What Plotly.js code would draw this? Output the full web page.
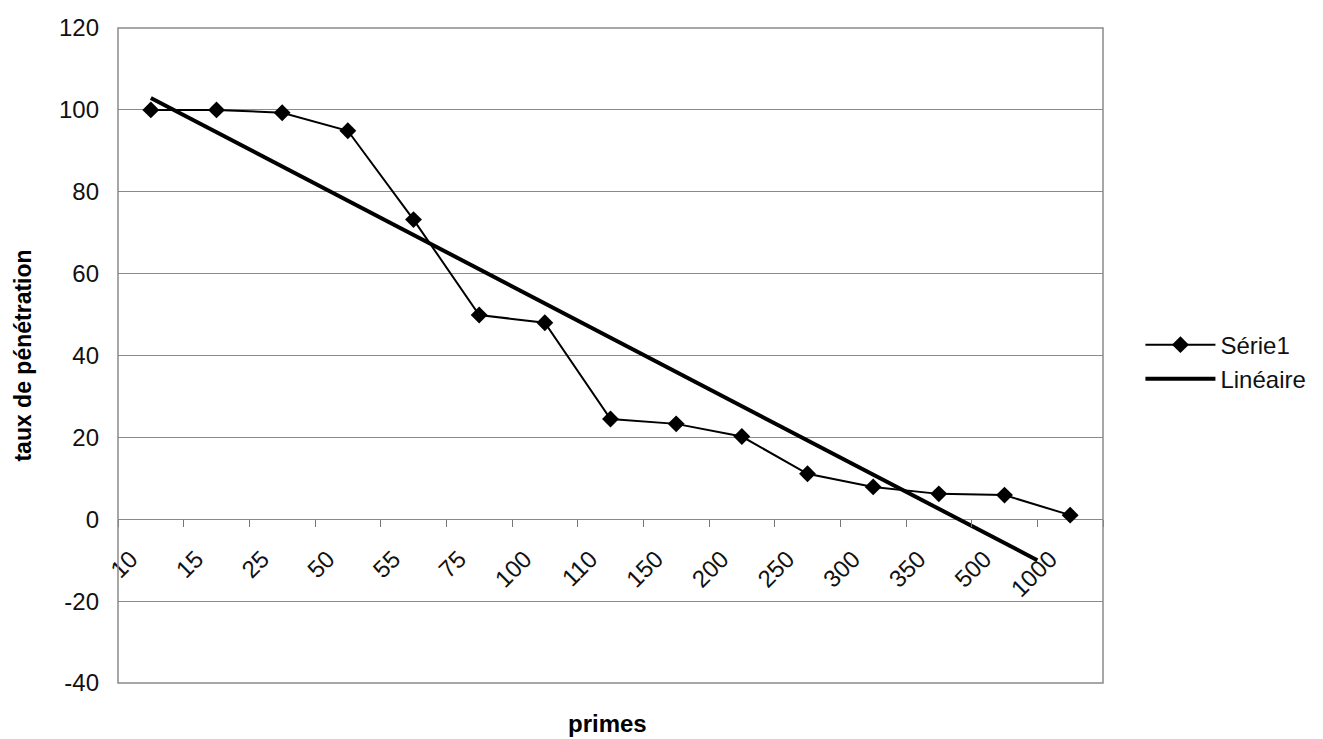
<!DOCTYPE html>
<html>
<head>
<meta charset="utf-8">
<script src="https://cdn.plot.ly/plotly-3.0.1.min.js"></script>
<style>html,body{margin:0;padding:0;background:#fff;}#chart{width:1323px;height:739px;}</style>
</head>
<body>
<div id="chart"></div>
<script>
// Category labels (primes) and the penetration rate series
var primes = ["10","15","25","50","55","75","100","110","150","200","250","300","350","500","1000"];
var tauxPenetration = [100, 100, 99.3, 94.9, 73.2, 49.9, 48.0, 24.5, 23.3, 20.2, 11.1, 7.9, 6.2, 5.9, 1.0];
var yTicks = [-40, -20, 0, 20, 40, 60, 80, 100, 120];
var yTickLabels = ["-40", "-20", "0", "20", "40", "60", "80", "100", "120"];
var trendEndIndex = 13.5; // where the drawn trendline stops (category index)

// positions along the category axis
var idx = primes.map(function(_, i){ return i; });

// Linear trendline (least squares on category order 1..n, as Excel does)
var n = tauxPenetration.length;
var xs = idx.map(function(i){ return i + 1; });
var mx = xs.reduce(function(a,b){return a+b;},0)/n;
var my = tauxPenetration.reduce(function(a,b){return a+b;},0)/n;
var sxy = 0, sxx = 0;
for (var i = 0; i < n; i++){ sxy += (xs[i]-mx)*(tauxPenetration[i]-my); sxx += (xs[i]-mx)*(xs[i]-mx); }
var slope = sxy/sxx, intercept = my - slope*mx;
var trendX = [0, trendEndIndex];
var trendY = trendX.map(function(x){ return intercept + slope*(x+1); });

var font = "Liberation Sans, Arial, Helvetica, sans-serif";

var traces = [
  {
    x: idx, y: tauxPenetration, type: "scatter", mode: "lines+markers", name: "Série1",
    line: {color: "#000", width: 2},
    marker: {symbol: "diamond", size: 13, color: "#000"}
  },
  {
    x: trendX, y: trendY, type: "scatter", mode: "lines", name: "Linéaire",
    line: {color: "#000", width: 4}
  }
];

var layout = {
  width: 1323, height: 739,
  margin: {l: 118, r: 205, t: 28, b: 56},
  paper_bgcolor: "#fff", plot_bgcolor: "#fff",
  font: {family: font, size: 24, color: "#111"},
  showlegend: true,
  legend: {
    x: 1.038, y: 0.49, xanchor: "left", yanchor: "middle",
    font: {family: font, size: 24, color: "#111"},
    itemwidth: 70, tracegroupgap: 0, bgcolor: "rgba(0,0,0,0)"
  },
  xaxis: {
    range: [-0.5, 14.5],
    anchor: "free", position: 0.25,
    tickmode: "array", tickvals: idx, ticktext: primes,
    tickangle: -45, ticks: "", showgrid: false, zeroline: false, showline: false,
    ticklabelstandoff: 20, ticklabelshift: -20,
    tickfont: {family: font, size: 24, color: "#111"},
    minor: {tick0: -0.5, dtick: 1, ticks: "outside", ticklen: 7, tickcolor: "#777", tickwidth: 1, showgrid: false},
    title: {text: ""},
    fixedrange: true
  },
  yaxis: {
    range: [-40, 120],
    tickmode: "array", tickvals: yTicks, ticktext: yTickLabels,
    ticks: "", ticklabelstandoff: 18,
    showgrid: true, gridcolor: "#8a8a8a", gridwidth: 1, zeroline: false,
    tickfont: {family: font, size: 24, color: "#111"},
    title: {text: "taux de pénétration", font: {family: font, size: 23, color: "#000", weight: "bold"}, standoff: 20},
    fixedrange: true
  },
  shapes: [
    {type: "rect", xref: "paper", yref: "paper", x0: 0, x1: 1, y0: 0, y1: 1,
     line: {color: "#8a8a8a", width: 1.5}, fillcolor: "rgba(0,0,0,0)", layer: "above"}
  ],
  annotations: [
    {text: "<b>primes</b>", xref: "paper", yref: "paper", x: 0.497, y: 0, yshift: -40,
     xanchor: "center", yanchor: "middle", showarrow: false,
     font: {family: font, size: 24, color: "#000"}}
  ]
};

Plotly.newPlot("chart", traces, layout, {staticPlot: true, displayModeBar: false});
</script>
</body>
</html>
